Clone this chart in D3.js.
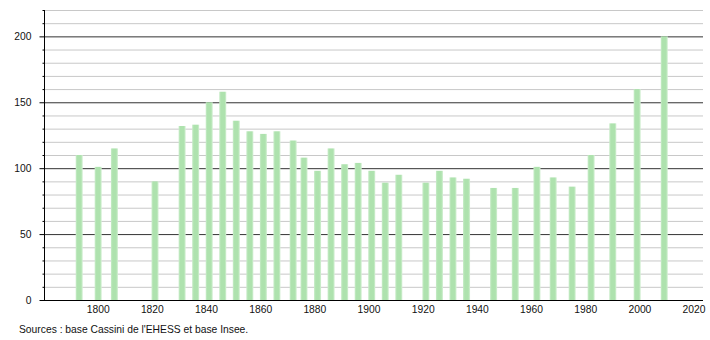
<!DOCTYPE html>
<html lang="fr">
<head>
<meta charset="UTF-8">
<title>Population</title>
<script src="https://cdn.jsdelivr.net/npm/d3@7"></script>
<style>
  body { margin: 0; background: #fff; }
  text { font-family: "Liberation Sans", Arial, sans-serif; font-size: 10.3px; fill: #111; }
</style>
</head>
<body>
<div id="chart"></div>
<script>
// census years and population
const years = [1793, 1800, 1806, 1821, 1831, 1836, 1841, 1846, 1851, 1856, 1861, 1866,
  1872, 1876, 1881, 1886, 1891, 1896, 1901, 1906, 1911, 1921, 1926, 1931, 1936,
  1946, 1954, 1962, 1968, 1975, 1982, 1990, 1999, 2009];
const population = [110, 101, 115, 90, 132, 133, 150, 158, 136, 128, 126, 128,
  121, 108, 98, 115, 103, 104, 98, 89, 95, 89, 98, 93, 92,
  85, 85, 101, 93, 86, 110, 134, 160, 200];
const yMajor = [0, 50, 100, 150, 200];
const xTicks = [1800, 1820, 1840, 1860, 1880, 1900, 1920, 1940, 1960, 1980, 2000, 2020];

const W = 710, H = 340;
const plot = { left: 44, right: 703, top: 10, bottom: 300 };

const svg = d3.select("#chart").append("svg")
  .attr("width", W).attr("height", H);

const x = d3.scaleLinear().domain([1780, 2023.3]).range([plot.left, plot.right]);
const y = d3.scaleLinear().domain([0, 220]).range([plot.bottom, plot.top]);

const defs = svg.append("defs");
const grad = defs.append("linearGradient").attr("id", "barGrad")
  .attr("x1", "0%").attr("x2", "100%").attr("y1", "0%").attr("y2", "0%");
grad.append("stop").attr("offset", "0%").attr("stop-color", "#c8ecc8");
grad.append("stop").attr("offset", "25%").attr("stop-color", "#aee2ae");
grad.append("stop").attr("offset", "75%").attr("stop-color", "#aee2ae");
grad.append("stop").attr("offset", "100%").attr("stop-color", "#d4f0d4");

const minorVals = d3.range(10, 221, 10).filter(v => v % 50 !== 0);

// minor gridlines every 10
svg.append("g")
  .selectAll("line")
  .data(minorVals)
  .join("line")
  .attr("x1", plot.left).attr("x2", plot.right)
  .attr("y1", d => y(d) + 0.5).attr("y2", d => y(d) + 0.5)
  .attr("stroke", "#c8c8c8").attr("stroke-width", 1);

// major gridlines
svg.append("g")
  .selectAll("line")
  .data(yMajor.filter(v => v > 0))
  .join("line")
  .attr("x1", plot.left).attr("x2", plot.right)
  .attr("y1", d => y(d) + 0.5).attr("y2", d => y(d) + 0.5)
  .attr("stroke", "#333").attr("stroke-width", 1);

// bars
svg.append("g")
  .selectAll("rect")
  .data(years)
  .join("rect")
  .attr("x", d => x(d) - 3.5)
  .attr("width", 7)
  .attr("y", (d, i) => y(population[i]))
  .attr("height", (d, i) => y(0) - y(population[i]))
  .attr("fill", "url(#barGrad)");

// y axis with minor ticks
const yAxisG = svg.append("g").attr("transform", `translate(${plot.left + 0.5},0)`);
yAxisG.append("line").attr("y1", plot.top).attr("y2", plot.bottom)
  .attr("stroke", "#000");
yAxisG.selectAll("line.minor")
  .data(minorVals)
  .join("line").attr("class", "minor")
  .attr("x1", -2).attr("x2", 0)
  .attr("y1", d => y(d) + 0.5).attr("y2", d => y(d) + 0.5)
  .attr("stroke", "#000");
yAxisG.selectAll("line.major")
  .data(yMajor)
  .join("line").attr("class", "major")
  .attr("x1", -5).attr("x2", 0)
  .attr("y1", d => y(d) + 0.5).attr("y2", d => y(d) + 0.5)
  .attr("stroke", "#000");
yAxisG.selectAll("text")
  .data(yMajor)
  .join("text")
  .attr("x", -13).attr("y", d => y(d) + 4)
  .attr("text-anchor", "end")
  .text(d => d);

// x axis
svg.append("line")
  .attr("x1", plot.left).attr("x2", plot.right)
  .attr("y1", plot.bottom + 0.5).attr("y2", plot.bottom + 0.5)
  .attr("stroke", "#000");
svg.append("g").selectAll("text")
  .data(xTicks)
  .join("text")
  .attr("x", d => x(d)).attr("y", plot.bottom + 12.5)
  .attr("text-anchor", "middle")
  .text(d => d);

svg.append("text")
  .attr("x", 19).attr("y", 333)
  .text("Sources : base Cassini de l'EHESS et base Insee.");
</script>
</body>
</html>
